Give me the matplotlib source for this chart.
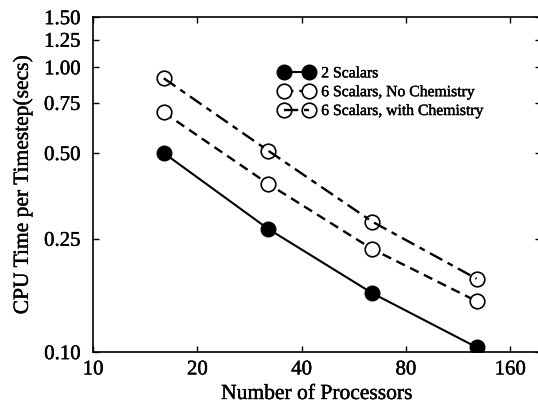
import matplotlib
matplotlib.use("Agg")
import matplotlib.pyplot as plt
import matplotlib.patheffects as pe
from matplotlib.ticker import FixedLocator, FixedFormatter, NullLocator

plt.rcParams['font.family'] = ['Liberation Serif', 'DejaVu Serif']

processors = [16, 32, 64, 128]
two_scalars = [0.50, 0.271, 0.161, 0.104]
six_no_chem = [0.694, 0.39, 0.23, 0.151]
six_with_chem = [0.915, 0.51, 0.287, 0.181]

x_ticks = [10, 20, 40, 80, 160]
y_ticks = [0.10, 0.25, 0.50, 0.75, 1.00, 1.25, 1.50]
y_tick_labels = ['0.10', '0.25', '0.50', '0.75', '1.00', '1.25', '1.50']

fig = plt.figure(figsize=(5.38, 4.08), dpi=100)
ax = fig.add_axes([0.173, 0.137, 0.832, 0.821])

ms = 10.5
ax.plot(processors, two_scalars, '-', color='black', lw=1.5,
        marker='o', ms=ms, mfc='black', mec='black',
        label='2 Scalars')
ax.plot(processors, six_no_chem, color='black', lw=1.7, ls=(0, (4, 2.5)),
        marker='o', ms=ms, mfc='white', mec='black', mew=1.2,
        label='6 Scalars, No Chemistry')
ax.plot(processors, six_with_chem, color='black', lw=1.7, ls=(0, (6, 2.5, 2.5, 2.5)),
        marker='o', ms=ms, mfc='none', mec='black', mew=1.2,
        label='6 Scalars, with Chemistry')

ax.set_xscale('log')
ax.set_yscale('log')
ax.set_xlim(10, 196)
ax.set_ylim(0.10, 1.50)

ax.xaxis.set_major_locator(FixedLocator(x_ticks))
ax.xaxis.set_major_formatter(FixedFormatter([str(v) for v in x_ticks]))
ax.xaxis.set_minor_locator(NullLocator())
ax.yaxis.set_major_locator(FixedLocator(y_ticks))
ax.yaxis.set_major_formatter(FixedFormatter(y_tick_labels))
ax.yaxis.set_minor_locator(NullLocator())

ax.tick_params(direction='in', length=4.5, width=1, top=True, right=True,
               labelsize=15, pad=6)
ax.tick_params(axis='y', pad=9)
for s in ax.spines.values():
    s.set_linewidth(1.2)

ax.set_xlabel('Number of Processors', fontsize=15.5, labelpad=4)
ax.set_ylabel('CPU Time per Timestep(secs)', fontsize=15.5, labelpad=8)

leg = ax.legend(loc='upper left', bbox_to_anchor=(0.415, 0.856), frameon=False,
                fontsize=11.3, numpoints=2, handlelength=2.2, handletextpad=0.5,
                labelspacing=0.18, borderpad=0.0, borderaxespad=0.0)

# slightly heavier strokes on all text
stroke = [pe.withStroke(linewidth=0.3, foreground='black')]
texts = ([ax.xaxis.label, ax.yaxis.label] + ax.get_xticklabels()
         + ax.get_yticklabels() + leg.get_texts())
for t in texts:
    t.set_path_effects(stroke)

fig.savefig('out.png', dpi=100)
